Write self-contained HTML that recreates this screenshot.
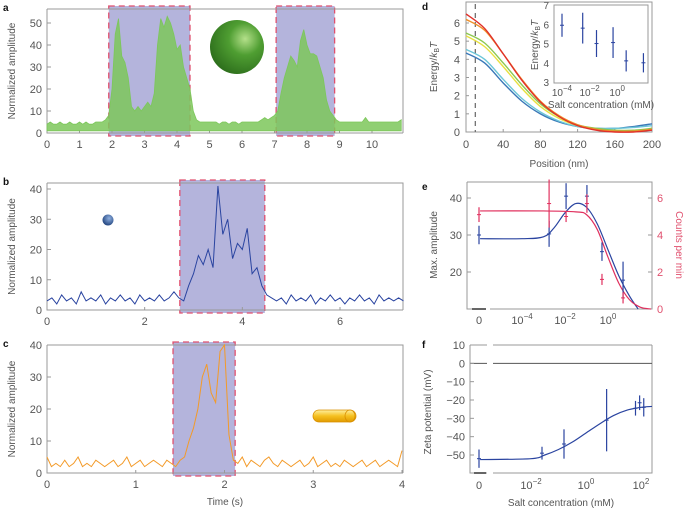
<!DOCTYPE html>
<html><head><meta charset="utf-8"><style>
html,body{margin:0;padding:0;background:#fff;}
svg{display:block;font-family:"Liberation Sans",sans-serif;}
text{fill:#555;}
.lbl{font-size:11px;}
.ttl{font-size:10px;}
.pl{font-size:10px;font-weight:bold;fill:#111;}
</style></head><body>
<svg id="fig" width="685" height="511" viewBox="0 0 685 511"></svg>
<script>
// ---------- data ----------
const aUpper=[4,5,4,4,5,4,4,5,4,4,5,4,5,4,4,5,5,5,6,
8,20,45,52,35,32,25,12,10,12,10,12,14,12,18,40,52,48,53,50,45,38,40,30,25,20,
10,6,5,5,5,5,5,5,4,5,5,4,5,5,4,5,5,5,5,5,5,6,7,6,7,8,
10,18,25,30,35,33,30,42,47,40,36,36,35,30,25,15,10,8,
6,5,5,5,5,5,5,5,5,7,5,5,5,5,5,5,5,5,5,5,6];
const aLower=[1,1,1,1,1,1,1,1,1,1,1,1,1,1,1,1,1,1,1,
1,1,1,1,1,1,1,1,1,1,1,1,1,1,1,1,1,1,1,1,1,1,1,1,1,1,
1,1,1,1,1,1,1,1,1,1,1,1,1,1,1,1,1,1,1,1,1,1,1,1,1,1,
1,1,1,1,1,1,1,1,1,1,1,1,1,1,1,1,1,1,
1,1,1,1,1,1,1,1,1,1,1,1,1,1,1,1,1,1,1,1,1];
const aStep=0.1;
const bVals=[3,4,2,5,3,4,2,6,3,4,3,5,2,4,3,5,3,4,2,5,3,4,3,5,3,4,6,4,
3,8,12,18,15,20,14,41,25,30,17,22,20,27,12,14,8,5,4,
3,4,2,5,3,4,3,5,2,4,3,5,3,4,2,4,3,5,3,4,2,5,3,4,3,4,3];
const bStep=0.1;
const cVals=[5,2,3,2,4,2,3,5,2,3,2,4,3,2,3,4,2,3,5,2,3,4,2,3,4,3,2,4,3,
2,4,5,10,14,20,30,34,25,22,38,40,12,4,
3,5,2,4,3,2,4,5,3,2,4,3,2,3,4,2,3,5,2,3,4,2,3,2,4,3,2,3,4,2,3,4,2,3,4,3,2,7];
const cStep=0.05;
const aShade=[[1.9,4.4],[7.05,8.85]];
const bShade=[[2.72,4.46]];
const cShade=[[1.42,2.12]];
const aTicks=[0,1,2,3,4,5,6,7,8,9,10];
const aYTicks=[0,10,20,30,40,50];
const bTicks=[0,2,4,6];
const bYTicks=[0,10,20,30,40];
const cTicks=[0,1,2,3,4];
const cYTicks=[0,10,20,30,40];
// panel d
const dPos=[0,20,40,60,80,100,120,140,160,180,200];
const dBlue=[4.35,3.8,2.7,1.7,1.0,0.55,0.3,0.2,0.2,0.3,0.45];
const dCyan=[4.55,4.0,2.9,1.85,1.1,0.6,0.3,0.2,0.2,0.25,0.35];
const dYellow=[5.3,4.7,3.6,2.4,1.4,0.75,0.35,0.15,0.05,0.05,0.15];
const dGreen=[5.45,4.9,3.8,2.6,1.55,0.85,0.4,0.2,0.1,0.1,0.2];
const dOrange=[6.2,5.6,4.3,2.9,1.7,0.9,0.4,0.15,0.05,0.05,0.15];
const dRed=[6.5,5.7,4.3,2.85,1.65,0.85,0.35,0.1,0.0,0.0,0.1];
const dXTicks=[0,40,80,120,160,200];
const dYTicks=[0,1,2,3,4,5,6];
const insetLogC=[-4,-2.5,-1.5,-0.3,0.65,1.9];
const insetE=[6.0,5.85,5.05,5.1,4.15,4.05];
const insetErr=[0.6,0.8,0.7,0.8,0.55,0.5];
// panel e
const eLogC=[null,-2.74,-1.95,-0.98,-0.28,0.7];
const eAmp=[30,30.3,40.5,40.5,25.5,17.8];
const eAmpErr=[2.5,3.5,3.5,3,2.5,5];
const eCnt=[5.1,5.7,5.0,5.7,1.6,0.6];
const eCntErr=[0.4,1.3,0.3,0.5,0.3,0.3];
const eAmpFitX=[-5.95,-4,-3,-2.5,-2,-1.5,-1,-0.5,0,0.5,1,1.4];
const eAmpFitY=[29,29,29.5,32,36,38.5,37.5,33,26,19,13.5,10];
const eCntFitX=[-5.95,-3,-1.5,-1,-0.5,0,0.5,1,1.5,2];
const eCntFitY=[5.3,5.3,5.25,5.1,4.3,2.8,1.4,0.5,0.1,0];
// panel f
const fLogC=[null,-1.6,-0.8,0.75,1.8,1.95,2.1];
const fZeta=[-52,-49,-44,-31,-24.5,-21.5,-24];
const fErr=[5,3.5,8,17,4,4,5];
const fFitX=[-3.85,-2,-1.5,-1,-0.5,0,0.5,1,1.5,2,2.4];
const fFitY=[-52.5,-52,-50,-47,-43,-38,-33,-28.5,-25.5,-24,-23.5];

// ---------- helpers ----------
const NS="http://www.w3.org/2000/svg";
const svg=document.getElementById('fig');
function el(tag,attrs,parent){const e=document.createElementNS(NS,tag);for(const k in attrs)e.setAttribute(k,attrs[k]);(parent||svg).appendChild(e);return e;}
function lin(d0,d1,r0,r1){return v=>r0+(v-d0)*(r1-r0)/(d1-d0);}
function txt(x,y,s,cls,anchor,name){const t=el('text',{x:x,y:y,'class':cls,'text-anchor':anchor||'middle'});t.textContent=s;


return t;}
function pow10(x,y,exp,name,size){const t=el('text',{x:x,y:y,'class':'lbl','text-anchor':'middle'});if(size)t.style.fontSize=size;


const a=el('tspan',{},t);a.textContent='10';const b=el('tspan',{dy:-5,'font-size':'8'},t);b.textContent=exp;return t;}
function smooth(pts){let d='M'+pts[0][0]+','+pts[0][1];for(let i=0;i<pts.length-1;i++){const p0=pts[i-1]||pts[i],p1=pts[i],p2=pts[i+1],p3=pts[i+2]||p2;
const c1=[p1[0]+(p2[0]-p0[0])/6,p1[1]+(p2[1]-p0[1])/6],c2=[p2[0]-(p3[0]-p1[0])/6,p2[1]-(p3[1]-p1[1])/6];
d+=' C'+c1[0]+','+c1[1]+' '+c2[0]+','+c2[1]+' '+p2[0]+','+p2[1];}return d;}

function tracePanel(o){
  const X=lin(0,o.xt1,47,o.xr1),Y=lin(0,o.yt1,o.y0,o.yr1);
  o.shade.forEach((s,i)=>{const r=el('rect',{x:X(s[0]),y:o.top-3,width:X(s[1])-X(s[0]),height:o.y0-o.top+6,fill:'#b4b4dc',stroke:'#e0506e','stroke-width':1.3,'stroke-dasharray':'6,4'});
    
    });
  const box=el('path',{d:`M47,${o.top}H403V${o.y0}M47,${o.top}V${o.y0}H403`,fill:'none',stroke:'#999','stroke-width':1});
  
  
  o.xticks.forEach(v=>{el('line',{x1:X(v),x2:X(v),y1:o.y0,y2:o.y0-3,stroke:'#999'});txt(X(v),o.y0+15,String(v),'lbl','middle',o.name+'-x-tick');});
  o.yticks.forEach(v=>{el('line',{x1:47,x2:51,y1:Y(v),y2:Y(v),stroke:'#999'});txt(42,Y(v)+4,String(v),'lbl','end',o.name+'-y-tick');});
  const yt=txt(0,0,'Normalized amplitude','ttl','middle',o.name+'-y-axis-title');yt.setAttribute('transform',`translate(15,${(o.top+o.y0)/2}) rotate(-90)`);
  txt(3,o.top+2,o.letter,'pl','start',o.name+'-panel-label');
  return {X,Y};
}
// ---------- panel a ----------
(function(){const s=tracePanel({name:'panel-a',letter:'a',xt1:10,xr1:372,yt1:50,yr1:23,y0:133,top:9,shade:aShade,xticks:aTicks,yticks:aYTicks});
 let d='';aUpper.forEach((v,i)=>{d+=(i?'L':'M')+s.X(i*aStep)+','+s.Y(v);});
 for(let i=aLower.length-1;i>=0;i--)d+='L'+s.X(i*aStep)+','+s.Y(aLower[i]);
 const p=el('path',{d:d+'Z',fill:'#7cc75a','fill-opacity':0.85,stroke:'#7cc75a','stroke-width':0.8});
 
 
 const g=el('defs',{});g.innerHTML='<radialGradient id="gs" cx="0.65" cy="0.35" r="0.75"><stop offset="0" stop-color="#b4e08a"/><stop offset="0.4" stop-color="#4f9e32"/><stop offset="1" stop-color="#2a6a1a"/></radialGradient><radialGradient id="bs" cx="0.6" cy="0.35" r="0.7"><stop offset="0" stop-color="#8fb0e0"/><stop offset="1" stop-color="#1c3f7a"/></radialGradient><linearGradient id="gold" x1="0" y1="0" x2="0" y2="1"><stop offset="0" stop-color="#fff0a0"/><stop offset="0.5" stop-color="#f5c020"/><stop offset="1" stop-color="#e09a00"/></linearGradient>';
 const c=el('circle',{cx:237,cy:47,r:27,fill:'url(#gs)'});
 
 
})();
// ---------- panel b ----------
(function(){const s=tracePanel({name:'panel-b',letter:'b',xt1:6,xr1:340,yt1:40,yr1:189,y0:310,top:183,shade:bShade,xticks:bTicks,yticks:bYTicks});
 let d='';bVals.forEach((v,i)=>{d+=(i?'L':'M')+s.X(i*bStep)+','+s.Y(v);});
 const p=el('path',{d:d,fill:'none',stroke:'#2a44a0','stroke-width':1});
 
 
 const c=el('circle',{cx:108,cy:220,r:5.5,fill:'url(#bs)'});
 
 
})();
// ---------- panel c ----------
(function(){const s=tracePanel({name:'panel-c',letter:'c',xt1:4,xr1:402,yt1:40,yr1:345,y0:473,top:345,shade:cShade,xticks:cTicks,yticks:cYTicks});
 let d='';cVals.forEach((v,i)=>{d+=(i?'L':'M')+s.X(i*cStep)+','+s.Y(v);});
 const p=el('path',{d:d,fill:'none',stroke:'#f39a28','stroke-width':1});
 
 
 txt(225,505,'Time (s)','ttl','middle','x-axis-title-time');
 const r=el('rect',{x:313,y:410,width:43,height:12,rx:6,fill:'url(#gold)',stroke:'#d99000','stroke-width':0.8});
 
 
 el('ellipse',{cx:350,cy:416,rx:5,ry:6,fill:'none',stroke:'#d99000','stroke-width':0.8});
})();
// ---------- panel d ----------
(function(){const X=lin(0,200,466,652),Y=lin(0,6,132,23);
 const box=el('path',{d:'M466,2H652V132H466Z',fill:'none',stroke:'#999'});
 
 
 dXTicks.forEach(v=>{el('line',{x1:X(v),x2:X(v),y1:132,y2:129,stroke:'#999'});txt(X(v),148,String(v),'lbl','middle','panel-d-x-tick');});
 dYTicks.forEach(v=>{el('line',{x1:466,x2:469,y1:Y(v),y2:Y(v),stroke:'#999'});txt(460,Y(v)+4,String(v),'lbl','end','panel-d-y-tick');});
 const dl=el('line',{x1:X(10),x2:X(10),y1:4,y2:132,stroke:'#666','stroke-width':1.2,'stroke-dasharray':'5,4'});
 
 
 const series=[[dBlue,'#3a78b8','blue'],[dCyan,'#6cc6d8','cyan'],[dYellow,'#e8e040','yellow'],[dGreen,'#8cc850','green'],[dOrange,'#f0902a','orange'],[dRed,'#e0302a','red']];
 series.forEach(s=>{const p=el('path',{d:smooth(s[0].map((v,i)=>[X(dPos[i]),Y(v)])),fill:'none',stroke:s[1],'stroke-width':1.4});
  
  });
 txt(559,167,'Position (nm)','ttl','middle','panel-d-x-axis-title');
 const yt=el('text',{'class':'ttl','text-anchor':'middle',transform:'translate(437,67) rotate(-90)'});
 
 
 yt.innerHTML='Energy/<tspan font-style="italic">k</tspan><tspan font-size="7" dy="2">B</tspan><tspan dy="-2" font-style="italic">T</tspan>';
 txt(422,10,'d','pl','start','panel-d-label');
 // inset
 const IX=l=>562+(l+4)*13.8,IY=lin(3,7,83,6);
 const ib=el('rect',{x:554,y:5,width:94,height:78,fill:'#fff',stroke:'#999'});
 
 
 [3,4,5,6,7].forEach(v=>{txt(549,IY(v)+3,String(v),'ttl','end','inset-y-tick');});
 [-4,-2,0].forEach(l=>{pow10(IX(l),96,String(l).replace('-','−'),'inset-x-tick','10px');});
 txt(601,108,'Salt concentration (mM)','ttl','middle','inset-x-axis-title');
 const iy=el('text',{'class':'ttl','text-anchor':'middle',transform:'translate(538,45) rotate(-90)'});
 
 
 iy.innerHTML='Energy/<tspan font-style="italic">k</tspan><tspan font-size="7" dy="2">B</tspan><tspan dy="-2" font-style="italic">T</tspan>';
 insetLogC.forEach((l,i)=>{const x=IX(l);const e=el('line',{x1:x,x2:x,y1:IY(insetE[i]+insetErr[i]),y2:IY(insetE[i]-insetErr[i]),stroke:'#2a44a0','stroke-width':1.2});
  
  
  el('line',{x1:x-2,x2:x+2,y1:IY(insetE[i]),y2:IY(insetE[i]),stroke:'#2a44a0'});});
})();
// ---------- panel e ----------
(function(){const LX=l=>l===null?479:608+l*21.5,YL=lin(20,40,272,198),YR=lin(0,6,309,198);
 const ax=el('path',{d:'M467,182V309H652V182H467',fill:'none',stroke:'#999'});
 
 
 el('rect',{x:484,y:305,width:6,height:8,fill:'#fff'});
 el('line',{x1:472,x2:486,y1:309,y2:309,stroke:'#666','stroke-width':2});
 [20,30,40].forEach(v=>{el('line',{x1:467,x2:471,y1:YL(v),y2:YL(v),stroke:'#999'});txt(462,YL(v)+4,String(v),'lbl','end','panel-e-left-tick');});
 [0,2,4,6].forEach(v=>{el('line',{x1:648,x2:652,y1:YR(v),y2:YR(v),stroke:'#999'});const t=txt(657,YR(v)+4,String(v),'lbl','start','panel-e-right-tick');t.style.fill='#e0506e';});
 txt(479,324,'0','lbl','middle','panel-e-x-tick');
 [-4,-2,0].forEach(l=>pow10(LX(l),324,String(l).replace('-','−'),'panel-e-x-tick'));
 const yl=txt(0,0,'Max. amplitude','ttl','middle','panel-e-left-axis-title');yl.setAttribute('transform','translate(437,245) rotate(-90)');
 const yr=txt(0,0,'Counts per min','ttl','middle','panel-e-right-axis-title');yr.setAttribute('transform','translate(676,245) rotate(90)');yr.style.fill='#e0506e';
 txt(422,190,'e','pl','start','panel-e-label');
 const bf=el('path',{d:smooth(eAmpFitX.map((l,i)=>[LX(l),YL(eAmpFitY[i])])),fill:'none',stroke:'#2a44a0','stroke-width':1.2});
 
 
 const rf=el('path',{d:smooth(eCntFitX.map((l,i)=>[LX(l),YR(eCntFitY[i])])),fill:'none',stroke:'#e0305e','stroke-width':1.2});
 
 
 eLogC.forEach((l,i)=>{const x=LX(l);
  const b=el('line',{x1:x,x2:x,y1:YL(eAmp[i]+eAmpErr[i]),y2:YL(eAmp[i]-eAmpErr[i]),stroke:'#2a44a0','stroke-width':1.2});
  
  
  el('line',{x1:x-2,x2:x+2,y1:YL(eAmp[i]),y2:YL(eAmp[i]),stroke:'#2a44a0'});
  const r=el('line',{x1:x,x2:x,y1:YR(eCnt[i]+eCntErr[i]),y2:YR(eCnt[i]-eCntErr[i]),stroke:'#e0305e','stroke-width':1.2});
  
  
  el('line',{x1:x-2,x2:x+2,y1:YR(eCnt[i]),y2:YR(eCnt[i]),stroke:'#e0305e'});});
})();
// ---------- panel f ----------
(function(){const LX=l=>l===null?479:586+l*27.5,Y=lin(-50,10,455,345);
 const ax=el('path',{d:'M470,345V473H652V345',fill:'none',stroke:'#999'});
 
 
 el('line',{x1:470,x2:487,y1:345,y2:345,stroke:'#999'});el('line',{x1:493,x2:652,y1:345,y2:345,stroke:'#999'});
 el('line',{x1:470,x2:487,y1:Y(0),y2:Y(0),stroke:'#555'});
 const z=el('line',{x1:493,x2:652,y1:Y(0),y2:Y(0),stroke:'#555'});
 
 
 el('rect',{x:487,y:469,width:6,height:8,fill:'#fff'});
 el('line',{x1:474,x2:486,y1:473,y2:473,stroke:'#666','stroke-width':2});
 [10,0,-10,-20,-30,-40,-50].forEach(v=>{el('line',{x1:470,x2:474,y1:Y(v),y2:Y(v),stroke:'#999'});txt(465,Y(v)+4,String(v).replace('-','−'),'lbl','end','panel-f-y-tick');});
 txt(479,489,'0','lbl','middle','panel-f-x-tick');
 [-2,0,2].forEach(l=>pow10(LX(l),489,String(l).replace('-','−'),'panel-f-x-tick'));
 txt(561,506,'Salt concentration (mM)','ttl','middle','panel-f-x-axis-title');
 const yt=txt(0,0,'Zeta potential (mV)','ttl','middle','panel-f-y-axis-title');yt.setAttribute('transform','translate(431,412) rotate(-90)');
 txt(422,348,'f','pl','start','panel-f-label');
 const fc=el('path',{d:smooth(fFitX.map((l,i)=>[LX(l),Y(fFitY[i])])),fill:'none',stroke:'#2a44a0','stroke-width':1.2});
 
 
 fLogC.forEach((l,i)=>{const x=LX(l);
  const b=el('line',{x1:x,x2:x,y1:Y(fZeta[i]+fErr[i]),y2:Y(fZeta[i]-fErr[i]),stroke:'#2a44a0','stroke-width':1.2});
  
  
  el('line',{x1:x-2,x2:x+2,y1:Y(fZeta[i]),y2:Y(fZeta[i]),stroke:'#2a44a0'});});
})();
</script>
</body></html>
